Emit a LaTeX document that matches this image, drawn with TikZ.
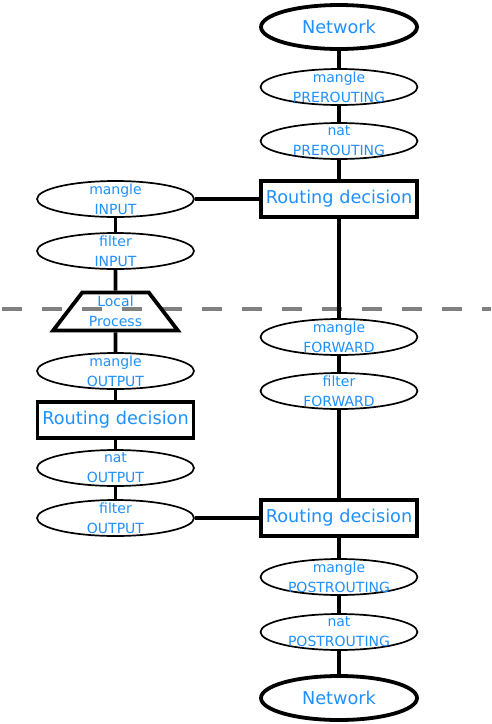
\documentclass[tikz,border=0pt]{standalone}
\usepackage{fontspec}
\setmainfont{DejaVu Sans}
\usetikzlibrary{shapes.geometric}
\definecolor{labelblue}{RGB}{30,144,255}
\tikzset{
  netbox/.style={ellipse, draw, line width=3.8pt, minimum width=156pt,
    minimum height=44pt, inner sep=0pt, text=labelblue,
    font=\fontsize{17.7}{21}\selectfont},
  tablebox/.style={ellipse, draw, line width=1.7pt, minimum width=157pt,
    minimum height=36pt, inner xsep=0pt, inner ysep=-10pt, align=center,
    text=labelblue, font=\fontsize{14}{20}\selectfont},
  routebox/.style={rectangle, draw, line width=3.8pt, minimum width=156pt,
    minimum height=36pt, inner sep=0pt, text=labelblue,
    font=\fontsize{17.7}{21}\selectfont},
  procbox/.style={trapezium, draw, line width=3.8pt, trapezium angle=52.5,
    text width=54pt, align=center, inner xsep=0pt, inner ysep=0pt,
    minimum height=38pt, text=labelblue, font=\fontsize{14}{20}\selectfont},
  conn/.style={line width=3.8pt},
  cutline/.style={draw=gray, line width=3.8pt, dash pattern=on 20pt off 20pt}
}
\begin{document}
\begin{tikzpicture}[x=1pt,y=-1pt]
      \useasboundingbox (0,0) rectangle (491,724);
      \coordinate (cutleft) at (2,309);
      \coordinate (cutright) at (491,309);
      \draw[cutline] (cutleft) -- (cutright);
      \path
        (339,27) node[netbox] (netin){Network}
        (339,87) node[tablebox] (manglepre){mangle\\PREROUTING}
        (339,141) node[tablebox] (natpre){nat\\PREROUTING}
        (339,199) node[routebox] (routein){Routing decision}
        (339,337) node[tablebox] (manglefwd){mangle\\FORWARD}
        (339,391) node[tablebox] (filterfwd){filter\\FORWARD}
        (339,518) node[routebox] (routeout){Routing decision}
        (339,577) node[tablebox] (manglepost){mangle\\POSTROUTING}
        (339,632) node[tablebox] (natpost){nat\\POSTROUTING}
        (339,698) node[netbox] (netout){Network}
        (115.5,199) node[tablebox] (mangleinput){mangle\\INPUT}
        (115.5,251) node[tablebox] (filterinput){filter\\INPUT}
        (115.5,311.5) node[procbox] (local){Local\\Process}
        (115.5,371) node[tablebox] (mangleoutput){mangle\\OUTPUT}
        (115.5,420) node[routebox] (routelocal){Routing decision}
        (115.5,468) node[tablebox] (natoutput){nat\\OUTPUT}
        (115.5,518) node[tablebox] (filteroutput){filter\\OUTPUT};
      \begin{scope}[conn]
        \draw (netin) to (manglepre);
        \draw (manglepre) to (natpre);
        \draw (natpre) to (routein);
        \draw (routein) to (manglefwd);
        \draw (manglefwd) to (filterfwd);
        \draw (filterfwd) to (routeout);
        \draw (routeout) to (manglepost);
        \draw (manglepost) to (natpost);
        \draw (natpost) to (netout);
        \draw (routein) to (mangleinput);
        \draw (mangleinput) to (filterinput);
        \draw (filterinput) to (local);
        \draw (local) to (mangleoutput);
        \draw (mangleoutput) to (routelocal);
        \draw (routelocal) to (natoutput);
        \draw (natoutput) to (filteroutput);
        \draw (filteroutput) to (routeout);
      \end{scope}
    \end{tikzpicture}
\end{document}
